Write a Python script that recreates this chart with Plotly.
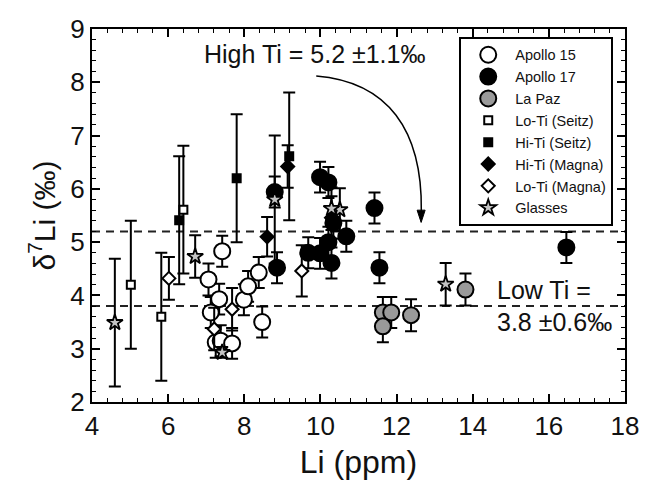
import plotly.graph_objects as go

# ---- Apollo 15 (open circles) ----
a15_li = [7.06, 7.42, 7.34, 7.12, 7.25, 7.38, 7.68, 7.99, 8.10, 8.38, 8.47]
a15_d7 = [4.30, 4.83, 3.93, 3.68, 3.12, 3.15, 3.10, 3.92, 4.17, 4.43, 3.50]
a15_err = [0.30, 0.29, 0.29, 0.29, 0.29, 0.29, 0.29, 0.29, 0.29, 0.29, 0.29]

# ---- Apollo 17 (filled circles) ----
a17_li = [8.80, 8.86, 9.68, 9.99, 9.99, 10.21, 10.21, 10.29, 10.34, 10.68, 11.42, 11.55, 16.46]
a17_d7 = [5.94, 4.52, 4.80, 4.79, 6.22, 6.12, 5.00, 4.61, 5.36, 5.11, 5.64, 4.52, 4.90]
a17_err = [0.29] * 13

# ---- La Paz (grey circles) ----
lp_li = [11.64, 11.86, 11.64, 12.38, 13.81]
lp_d7 = [3.68, 3.68, 3.42, 3.63, 4.11]
lp_err = [0.29, 0.29, 0.30, 0.30, 0.30]

# ---- Literature data ----
loseitz_li = [5.02, 5.82, 6.40]
loseitz_d7 = [4.20, 3.60, 5.61]
loseitz_err = [1.2, 1.2, 1.2]

hiseitz_li = [6.29, 7.80, 9.18]
hiseitz_d7 = [5.41, 6.20, 6.61]
hiseitz_err = [1.2, 1.2, 1.2]

himagna_li = [9.14, 8.60, 10.29]
himagna_d7 = [6.42, 5.10, 5.46]
himagna_err = [0.4, 0.37, 0.4]

lomagna_li = [6.02, 7.68, 7.21, 9.51]
lomagna_d7 = [4.32, 3.74, 3.37, 4.46]
lomagna_err = [0.4, 0.4, 0.4, 0.48]

glass_li = [4.60, 6.71, 8.80, 10.51, 10.29, 13.29, 7.42]
glass_d7 = [3.49, 4.73, 5.80, 5.61, 5.63, 4.21, 2.93]
glass_err = [1.2, 0.4, 1.2, 0.4, 0.4, 0.4, 0.1]

# reference lines for the two Ti groups
HIGH_TI = 5.2
LOW_TI = 3.8

FONT = "Liberation Sans, Arial, sans-serif"


def series(name, x, y, err, symbol, size, fill, line_w=2, cap=6):
    return go.Scatter(
        x=x, y=y, mode="markers", name=name,
        marker=dict(symbol=symbol, size=size, color=fill,
                    line=dict(color="black", width=line_w)),
        error_y=dict(type="data", array=err, visible=True,
                     color="black", thickness=2, width=cap),
    )


fig = go.Figure()
fig.add_trace(series("Apollo 15", a15_li, a15_d7, a15_err, "circle", 16, "white"))
fig.add_trace(series("Apollo 17", a17_li, a17_d7, a17_err, "circle", 16, "black"))
fig.add_trace(series("La Paz", lp_li, lp_d7, lp_err, "circle", 16, "#9a9a9a"))
fig.add_trace(series("Lo-Ti (Seitz)", loseitz_li, loseitz_d7, loseitz_err, "square", 8, "white"))
fig.add_trace(series("Hi-Ti (Seitz)", hiseitz_li, hiseitz_d7, hiseitz_err, "square", 8, "black"))
fig.add_trace(series("Hi-Ti (Magna)", himagna_li, himagna_d7, himagna_err, "diamond", 10, "black"))
fig.add_trace(series("Lo-Ti (Magna)", lomagna_li, lomagna_d7, lomagna_err, "diamond", 10, "white"))
fig.add_trace(series("Glasses", glass_li, glass_d7, glass_err, "star", 12, "#c4c4c4", line_w=1.8))

dash = dict(color="#222222", width=2, dash="8px,6px")
fig.add_shape(type="line", xref="x", yref="y", x0=4, x1=18, y0=HIGH_TI, y1=HIGH_TI,
              line=dash, layer="below")
fig.add_shape(type="line", xref="x", yref="y", x0=4, x1=18, y0=LOW_TI, y1=LOW_TI,
              line=dash, layer="below")

# curved pointer from the High Ti label down to its line, with a filled head
fig.add_shape(type="path", xref="x", yref="y",
              path="M 9.89,8.12 C 11.77,8.01 12.68,7.11 12.65,5.58",
              line=dict(color="black", width=1.5))
fig.add_shape(type="path", xref="x", yref="y",
              path="M 12.54,5.60 L 12.75,5.60 L 12.645,5.37 Z",
              fillcolor="black", line=dict(color="black", width=1))

fig.add_annotation(x=6.9, y=8.53, xref="x", yref="y", text="High Ti = 5.2 ±1.1‰",
                   showarrow=False, xanchor="left", yanchor="middle",
                   font=dict(family=FONT, size=25, color="#111"))
fig.add_annotation(x=14.58, y=4.11, xref="x", yref="y", text="Low Ti =",
                   showarrow=False, xanchor="left", yanchor="middle",
                   font=dict(family=FONT, size=25, color="#111"))
fig.add_annotation(x=14.58, y=3.51, xref="x", yref="y", text="3.8 ±0.6‰",
                   showarrow=False, xanchor="left", yanchor="middle",
                   font=dict(family=FONT, size=25, color="#111"))

axis_common = dict(
    showline=True, linecolor="black", linewidth=2, mirror="allticks",
    ticks="inside", ticklen=8, tickwidth=1.5, tickcolor="black",
    showgrid=False, zeroline=False,
    tickfont=dict(family=FONT, size=26, color="#111"),
)

fig.update_layout(
    width=651, height=486,
    margin=dict(l=92, r=22, t=29, b=83),
    paper_bgcolor="white", plot_bgcolor="white",
    font=dict(family=FONT, color="#111"),
    xaxis=dict(range=[4, 18], dtick=2, tick0=4,
               minor=dict(dtick=0.4, ticks="inside", ticklen=4, tickcolor="black", tickwidth=1.2),
               title=dict(text="Li (ppm)", font=dict(family=FONT, size=32), standoff=10),
               **axis_common),
    yaxis=dict(range=[2, 9], dtick=1, tick0=2,
               minor=dict(dtick=0.2, ticks="inside", ticklen=4, tickcolor="black", tickwidth=1.2),
               title=dict(text="δ<sup>7</sup>Li (‰)", font=dict(family=FONT, size=30), standoff=6),
               **axis_common),
    legend=dict(x=0.689, y=0.979, xanchor="left", yanchor="top",
                bgcolor="white", bordercolor="black", borderwidth=2,
                font=dict(family=FONT, size=14.5, color="#111"),
                itemsizing="trace", itemwidth=44, tracegroupgap=0),
    showlegend=True,
)

fig.write_html("out.html")
